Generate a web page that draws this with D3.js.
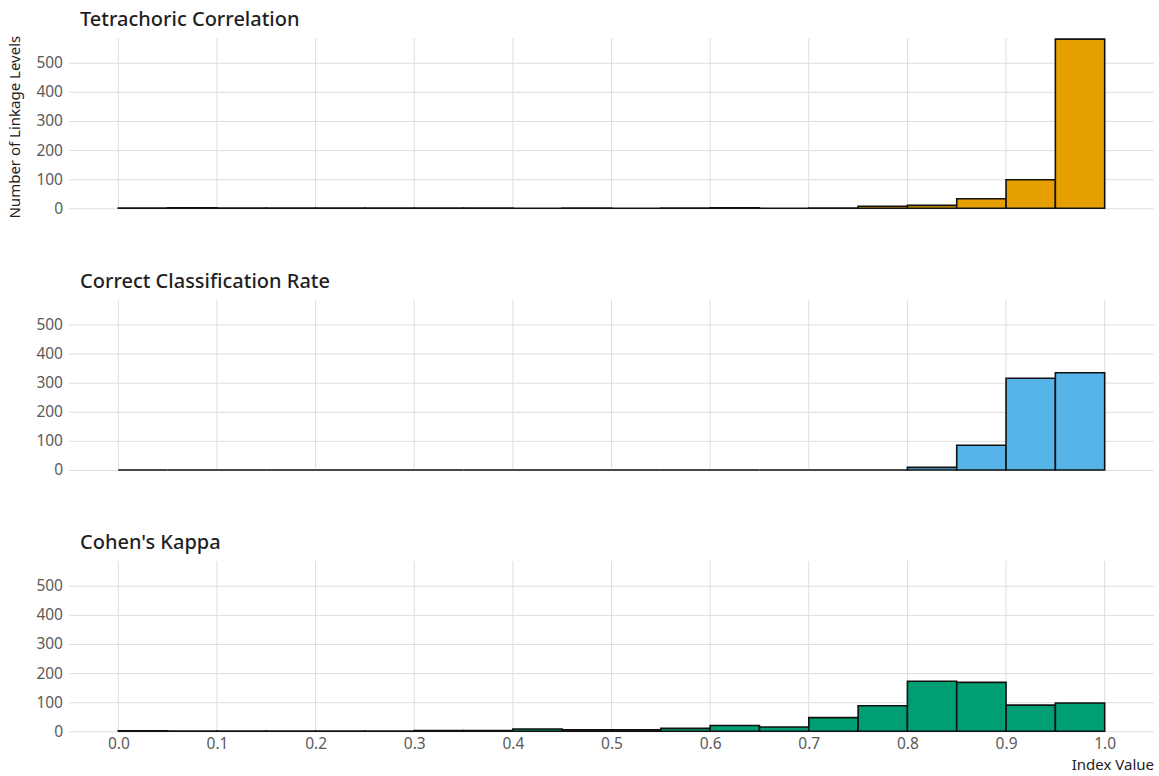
<!DOCTYPE html>
<html>
<head>
<meta charset="utf-8">
<script src="https://cdn.jsdelivr.net/npm/d3@7"></script>
<style>
  body { margin: 0; background: #fff; }
  svg { display: block; }
</style>
</head>
<body>
<svg id="chart"></svg>
<script>
// Histogram bins (width 0.05 from 0 to 1)
const binStarts = d3.range(20).map(i => +(i * 0.05).toFixed(2));
const panelTitles = ["Tetrachoric Correlation", "Correct Classification Rate", "Cohen's Kappa"];
const panelColors = ["#E69F00", "#56B4E9", "#009E73"];
const tetrachoric = [1, 2, 1, 1, 1, 1, 1, 1, 0, 1, 0, 1, 2, 0, 1, 7, 10, 33, 98, 581];
const ccr = [0, 0, 0, 0, 0, 0, 0, 0, 0, 0, 0, 0, 0, 0, 0, 0, 9, 85, 315, 334];
const kappa = [2, 1, 1, 1, 1, 1, 3, 3, 8, 5, 5, 10, 20, 15, 47, 88, 172, 168, 90, 97];
const xTicks = [0, 0.1, 0.2, 0.3, 0.4, 0.5, 0.6, 0.7, 0.8, 0.9, 1.0];
const yTicks = [0, 100, 200, 300, 400, 500];

const series = [tetrachoric, ccr, kappa];
const width = 1159, height = 776;
const panelTops = [38, 299.7, 561];
const panelH = 170.3;
const binWidth = 0.05;

const svg = d3.select("#chart")
  .attr("width", width)
  .attr("height", height)
  .attr("font-family", "Noto Sans, sans-serif");

const x = d3.scaleLinear().domain([-0.05, 1.05]).range([69, 1154]);

series.forEach((values, p) => {
  const top = panelTops[p];
  const y = d3.scaleLinear().domain([0, 585]).range([top + panelH, top]);
  const g = svg.append("g");

  // horizontal gridlines + y labels
  const yAxis = d3.axisLeft(y).tickValues(yTicks).tickSize(-(x.range()[1] - x.range()[0])).tickPadding(6);
  g.append("g")
    .attr("transform", `translate(${x.range()[0]},0)`)
    .call(yAxis)
    .attr("font-family", null)
    .call(a => a.select(".domain").remove())
    .call(a => a.selectAll("line").attr("stroke", "#dedede").attr("stroke-width", 1))
    .call(a => a.selectAll("text").attr("fill", "#5a5a5a").attr("font-size", "15.5px"));

  // vertical gridlines
  g.append("g")
    .selectAll("line")
    .data(xTicks)
    .join("line")
    .attr("x1", d => x(d)).attr("x2", d => x(d))
    .attr("y1", y.range()[1]).attr("y2", y.range()[0])
    .attr("stroke", "#dedede")
    .attr("stroke-width", 1);

  // bars (paths, so empty bins still show as a flat outline)
  g.append("g")
    .selectAll("path")
    .data(values.map((v, i) => ({ x0: binStarts[i], n: v })))
    .join("path")
    .attr("d", d => {
      const x0 = x(d.x0), x1 = x(d.x0 + binWidth), y0 = y(0), y1 = y(d.n);
      return `M${x0},${y0}V${y1}H${x1}V${y0}Z`;
    })
    .attr("fill", panelColors[p])
    .attr("stroke", "#111")
    .attr("stroke-width", 1.6);

  // panel title
  svg.append("text")
    .attr("x", 80)
    .attr("y", top - 12)
    .attr("font-size", "20px")
    .attr("font-weight", 500)
    .attr("fill", "#1f1f1f")
    .text(panelTitles[p]);

  // x axis on the last panel
  if (p === series.length - 1) {
    svg.append("g")
      .attr("transform", `translate(0,${y(0)})`)
      .call(d3.axisBottom(x).tickValues(xTicks).tickFormat(d3.format(".1f")).tickSize(0).tickPadding(7))
      .attr("font-family", null)
      .call(a => a.select(".domain").remove())
      .call(a => a.selectAll("text").attr("fill", "#5a5a5a").attr("font-size", "15.5px"));
  }
});

// x axis title
svg.append("text")
  .attr("x", 1154)
  .attr("y", 770)
  .attr("text-anchor", "end")
  .attr("font-size", "15px")
  .attr("fill", "#222")
  .text("Index Value");

// y axis title
svg.append("text")
  .attr("transform", "rotate(-90)")
  .attr("x", -(panelTops[0] + panelH / 2 + 4))
  .attr("y", 20)
  .attr("text-anchor", "middle")
  .attr("font-size", "15px")
  .attr("fill", "#222")
  .text("Number of Linkage Levels");
</script>
</body>
</html>
